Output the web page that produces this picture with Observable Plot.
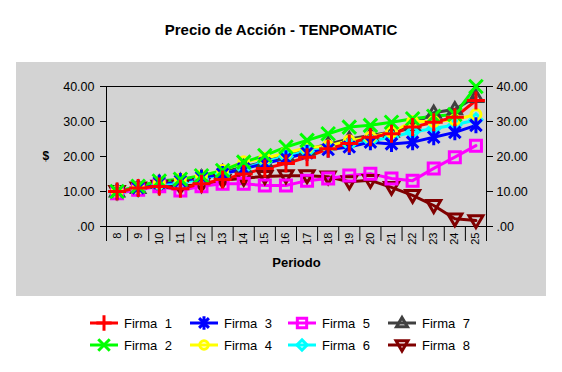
<!DOCTYPE html>
<html><head><meta charset="utf-8">
<script src="https://cdn.jsdelivr.net/npm/d3@7"></script>
<script src="https://cdn.jsdelivr.net/npm/@observablehq/plot@0.6"></script>
<style>
body{margin:0;background:#fff;font-family:Arial,"Liberation Sans",sans-serif;}
#wrap{position:relative;width:562px;height:372px;overflow:hidden;background:#fff;}
#title{position:absolute;left:0;width:562px;top:21px;text-align:center;font-weight:bold;font-size:15px;color:#000;}
#panel{position:absolute;left:16px;top:62px;width:530px;height:234px;background:#d3d3d3;}
#panel svg{display:block;}
.item{position:absolute;display:flex;align-items:center;font-size:13px;color:#000;word-spacing:4px;white-space:nowrap;}
.item svg{margin-right:6px;display:block;}
</style></head>
<body>
<div id="wrap">
  <div id="title">Precio de Acción - TENPOMATIC</div>
  <div id="panel"></div>
  <div id="legend"></div>
</div>
<script>
const periods = [8,9,10,11,12,13,14,15,16,17,18,19,20,21,22,23,24,25];
const seriesNames = ["Firma 1","Firma 2","Firma 3","Firma 4","Firma 5","Firma 6","Firma 7","Firma 8"];
const firma1 = [10, 11, 11.4, 10.8, 12.2, 13.4, 15, 16.6, 18, 19.8, 22.2, 23.7, 25.5, 26.5, 28.4, 29.8, 31.2, 36];
const firma2 = [10, 11.5, 13, 13.5, 14.5, 16, 18.4, 20.3, 22.7, 24.6, 26.5, 28.4, 28.9, 29.8, 30.8, 31.5, 32, 40];
const firma3 = [10, 11, 12.5, 13, 14, 15, 16.5, 18, 19.5, 21, 22, 22.7, 24.1, 23.6, 24.1, 25.5, 26.9, 28.9];
const firma4 = [10, 11, 12.5, 13.5, 14.5, 16, 18.5, 19.5, 21, 22.5, 23, 24.5, 25.5, 27, 30, 30, 30.5, 32];
const firma5 = [9.5, 10.5, 11.5, 10.3, 11.5, 12.2, 12.2, 11.7, 11.7, 13.1, 13.7, 14.6, 15.1, 13.7, 13.1, 16.6, 19.8, 23.1];
const firma6 = [9.5, 10.5, 12, 12.5, 13.5, 15, 16.5, 18.5, 20, 21.5, 22.5, 23.5, 24.5, 25.5, 27, 28, 29, 30.5];
const firma7 = [10, 11, 12.5, 13, 14, 15.5, 17, 18.5, 20.5, 22, 23.5, 25, 26, 27, 29, 32.5, 33.5, 37];
const firma8 = [10, 11, 11.5, 11.5, 12, 13.2, 13.8, 14.3, 14.5, 14.5, 14.2, 12.8, 13.2, 11.2, 8.9, 6, 2.2, 1.7];
const yTicks = [0,10,20,30,40];
const colors = ["#ff0000","#00ff00","#0000ff","#ffff00","#ff00ff","#00ffff","#404040","#800000"];
const allValues = [firma1,firma2,firma3,firma4,firma5,firma6,firma7,firma8];

const rad = s => Math.sqrt(s/Math.PI);
const symPlus = {draw(c,s){const r=rad(s);c.moveTo(-r,0);c.lineTo(r,0);c.moveTo(0,-r);c.lineTo(0,r);}};
const symTimes = {draw(c,s){const r=rad(s)*0.75;c.moveTo(-r,-r);c.lineTo(r,r);c.moveTo(-r,r);c.lineTo(r,-r);}};
const symAst = {draw(c,s){const r=rad(s),a=r*0.72;c.moveTo(0,-r);c.lineTo(0,r);c.moveTo(-a,-a);c.lineTo(a,a);c.moveTo(-a,a);c.lineTo(a,-a);}};
const symCircle = {draw(c,s){const r=rad(s);c.moveTo(r,0);c.arc(0,0,r,0,2*Math.PI);c.closePath();}};
const symSquare = {draw(c,s){const r=rad(s);c.moveTo(-r,-r);c.lineTo(r,-r);c.lineTo(r,r);c.lineTo(-r,r);c.closePath();}};
const symDiamond = {draw(c,s){const r=rad(s);c.moveTo(0,-r);c.lineTo(r,0);c.lineTo(0,r);c.lineTo(-r,0);c.closePath();}};
const symTriUp = {draw(c,s){const r=rad(s);c.moveTo(0,-r);c.lineTo(r,r*0.7);c.lineTo(-r,r*0.7);c.closePath();}};
const symTriDown = {draw(c,s){const r=rad(s);c.moveTo(-r,-r*0.7);c.lineTo(r,-r*0.7);c.lineTo(0,r);c.closePath();}};
const symbols = [symPlus,symTimes,symAst,symCircle,symSquare,symDiamond,symTriUp,symTriDown];
const sizes = [9,9,8,5,5.5,6,6.5,7];

const rows = [];
seriesNames.forEach((name,i)=>{
  periods.forEach((p,j)=>rows.push({firma:name, period:p, value:allValues[i][j]}));
});
const boundaries = d3.range(periods[0]-0.5, periods[periods.length-1]+1, 1);
const fmt = d => d === 0 ? ".00" : d.toFixed(2);

const seriesMarks = [];
for (let i = seriesNames.length-1; i >= 0; i--) {
  const data = rows.filter(r=>r.firma===seriesNames[i]);
  seriesMarks.push(Plot.line(data,{x:"period",y:"value",stroke:colors[i],strokeWidth:3}));
}
for (let i = seriesNames.length-1; i >= 0; i--) {
  const data = rows.filter(r=>r.firma===seriesNames[i]);
  seriesMarks.push(Plot.dot(data,{x:"period",y:"value",stroke:colors[i],fill:"none",strokeWidth:3,symbol:symbols[i],r:sizes[i]}));
}

const chart = Plot.plot({
  width:530, height:234,
  marginLeft:90, marginRight:60, marginTop:24, marginBottom:70,
  style:{background:"transparent", fontFamily:"Arial, 'Liberation Sans', sans-serif", fontSize:"12px", color:"#000"},
  x:{type:"linear", domain:[periods[0]-0.5, periods[periods.length-1]+0.5]},
  y:{domain:[0,40]},
  marks:[
    Plot.frame({stroke:"#000"}),
    Plot.axisY({anchor:"left", ticks:yTicks, tickSize:6, tickPadding:6, tickFormat:fmt, label:null, fontSize:12.5}),
    Plot.axisY({anchor:"right", ticks:yTicks, tickSize:6, tickPadding:4, tickFormat:fmt, label:null, fontSize:12.5}),
    Plot.axisX({ticks:boundaries, tickSize:15, tickFormat:()=>"", label:null}),
    Plot.axisX({ticks:periods, tickSize:0, tickPadding:6, tickRotate:-90, tickFormat:d=>String(d), label:null, fontSize:11}),
    ...seriesMarks,
    Plot.text(["Periodo"],{frameAnchor:"bottom", dy:40, fontWeight:"bold", fontSize:13}),
    Plot.text(["$"],{frameAnchor:"left", dx:-64, fontWeight:"bold", fontSize:12})
  ]
});
document.getElementById("panel").appendChild(chart);

// Legend
const legend = document.getElementById("legend");
const colX = [90,190,288,388];
const rowY = [323,345];
seriesNames.forEach((name,i)=>{
  const col = Math.floor(i/2), row = i%2;
  const div = document.createElement("div");
  div.className = "item";
  div.style.left = colX[col]+"px";
  div.style.top = (rowY[row]-9)+"px";
  div.style.height = "18px";
  const svg = d3.create("svg").attr("width",28).attr("height",18);
  svg.append("line").attr("x1",0).attr("x2",28).attr("y1",9).attr("y2",9).attr("stroke",colors[i]).attr("stroke-width",3);
  const r = sizes[i]*0.85;
  svg.append("path").attr("transform","translate(14,9)")
    .attr("d", d3.symbol(symbols[i], r*r*Math.PI)())
    .attr("fill","none").attr("stroke",colors[i]).attr("stroke-width",3);
  div.appendChild(svg.node());
  const span = document.createElement("span");
  span.textContent = name;
  div.appendChild(span);
  legend.appendChild(div);
});
</script>
</body></html>
